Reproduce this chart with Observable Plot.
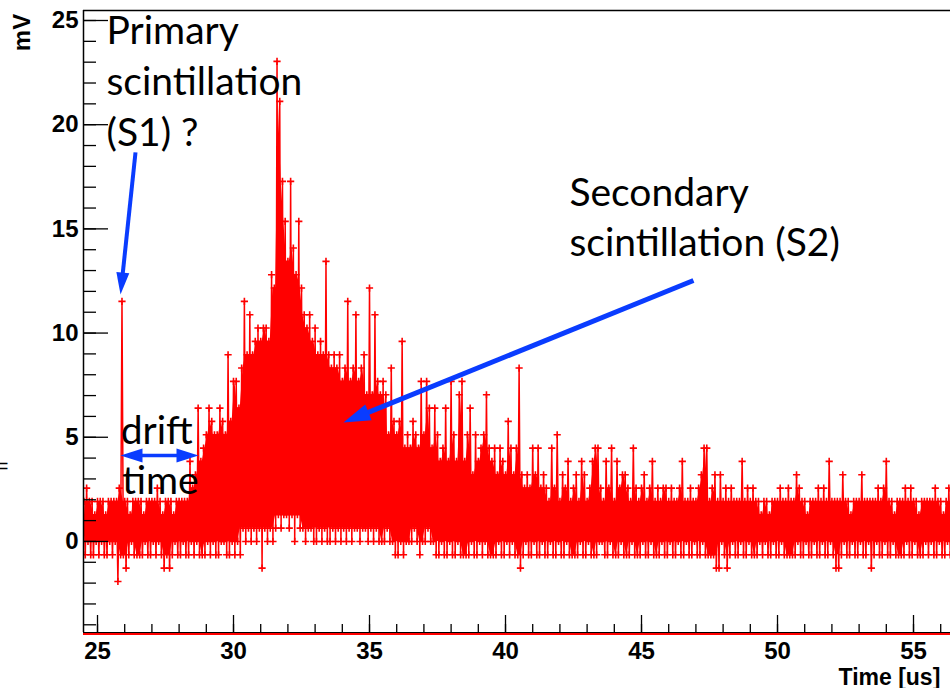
<!DOCTYPE html>
<html><head><meta charset="utf-8">
<script src="https://cdn.jsdelivr.net/npm/d3@7"></script>
<script src="https://cdn.jsdelivr.net/npm/@observablehq/plot@0.6"></script>
<style>
html,body{margin:0;padding:0;background:#fff;overflow:hidden;}
#chart{position:relative;width:950px;height:688px;overflow:hidden;}
</style></head><body><div id="chart"></div>
<script>
// ---- Waveform data ----
// Each 0.1 µs bin holds the upper and lower excursion of the signal, as ADC level codes.
const tStart = 24.5;          // µs, first bin
const binWidth = 0.1;         // µs
const adcStep = 0.64;         // mV per ADC count
const levelAlphabet = "0123456789abcdefghijklmnopqrstuvwxyzABCD"; // '3' = 0 mV
// upper excursions, one string per µs (24.5 … 56.4 µs)
const hiCodes = [
  "6766566656","6667l66566","6656666765","6665666669","78d9abdcbb",
  "dcbhcffdgl","hkhijijjin","mDAuroupnr","mkjkijhiho","hghghfglfg",
  "kfghemekfe","febgcbciab","acbafbfdad","b9ad9fb9ef","9bd8b9abea",
  "9a8a98ca8a","g8787a8a78","76a7b68796","78698679aa","7697a69788",
  "76a7678679","6767767667","96676678aa","6786867676","6696767665",
  "6656667667","6687665666","7676966668","6656668666","6676796656",
  "6676766566","6667665676"
];
// lower excursions, one string per µs
const loCodes = [
  "2322323223","2302212322","2232232321","2123223223","2322232322",
  "3322323243","4343414343","4545545354","4344334343","3434343434",
  "4344343433","3433223233","3432334332","2322322322","2232232322",
  "2232232322","1232232232","2322322322","2232232223","3223222322",
  "2322232232","2232232232","2322322322","2211321232","2322322232",
  "3223223222","2232232232","2322321123","2232232231","2322322322",
  "2232232223","2322322322"
];
const xTicksMajor = [25, 30, 35, 40, 45, 50, 55];
const xTicksMinor = [25,26,27,28,29,30,31,32,33,34,35,36,37,38,39,40,41,42,43,44,45,46,47,48,49,50,51,52,53,54,55,56];
const yTicksMajor = [0, 5, 10, 15, 20, 25];
const yTicksMinor = [-4,-3,-2,-1,0,1,2,3,4,5,6,7,8,9,10,11,12,13,14,15,16,17,18,19,20,21,22,23,24,25];

// Annotations (data coordinates: µs, mV)
const labels = [
  {t: 25.33, v: 24.48, text: "Primary"},
  {t: 25.33, v: 22.03, text: "scintillation"},
  {t: 25.33, v: 19.59, text: "(S1) ?"},
  {t: 42.35, v: 16.71, text: "Secondary"},
  {t: 42.35, v: 14.31, text: "scintillation (S2)"},
  {t: 25.85, v: 5.29, text: "drift"},
  {t: 25.90, v: 2.89, text: "time"}
];
const arrows = [
  {t1: 26.397, v1: 18.67, t2: 25.846, v2: 11.85, both: false, len: 22, wid: 13, w: 4},
  {t1: 46.91, v1: 12.52, t2: 34.04, v2: 5.71, both: false, len: 27, wid: 17, w: 5},
  {t1: 25.846, v1: 4.13, t2: 28.713, v2: 4.13, both: true, len: 22, wid: 14, w: 3.5}
];

// ---- build samples ----
const code = c => (levelAlphabet.indexOf(c) - 3) * adcStep;
const hiAll = hiCodes.join(""), loAll = loCodes.join("");
const hiV = Array.from(hiAll, code), loV = Array.from(loAll, code);
const samples = [];
for (let i = 0; i < hiV.length; i++) {
  samples.push({t: tStart + i * binWidth, mV: hiV[i]});
  samples.push({t: tStart + (i + 0.5) * binWidth, mV: loV[i]});
}
// densely sampled core: region covered by neighbouring excursions
const core = [];
for (let i = 0; i < hiV.length; i++) {
  const top = Math.min(hiV[i], hiV[Math.min(i + 1, hiV.length - 1)]);
  const bot = Math.min(top, Math.max(loV[Math.max(i - 1, 0)], loV[i], loV[Math.min(i + 1, loV.length - 1)]));
  core.push({t: tStart + (i + 0.5) * binWidth, top, bot});
}

const W = 950, H = 688, mL = 83, mR = 0, mT = 10, mB = 56;
const xDomain = [24.485, 56.36];
const yDomain = [-4.37, 25.48];
const xs = Plot.scale({x: {domain: xDomain, range: [mL, W - mR]}});
const ys = Plot.scale({y: {domain: yDomain, range: [H - mB, mT]}});
const plotW = W - mL - mR, plotH = H - mT - mB;

const red = "#ff0000", blue = "#0a3cff";
const cross = {draw(ctx) { const r = 3.6; ctx.moveTo(-r, 0); ctx.lineTo(r, 0); ctx.moveTo(0, -r); ctx.lineTo(0, r); }};
const headSymbol = (len, wid) => ({draw(ctx) { ctx.moveTo(0, 0); ctx.lineTo(-wid / 2, len); ctx.lineTo(wid / 2, len); ctx.closePath(); }});

// arrows: shafts and heads
const shafts = [], headMarks = [];
for (const a of arrows) {
  const px1 = xs.apply(a.t1), py1 = ys.apply(a.v1), px2 = xs.apply(a.t2), py2 = ys.apply(a.v2);
  const dx = px2 - px1, dy = py2 - py1, L = Math.hypot(dx, dy), ux = dx / L, uy = dy / L;
  const cut = a.len * 0.7;
  const e2 = {x: px2 - ux * cut, y: py2 - uy * cut};
  const e1 = a.both ? {x: px1 + ux * cut, y: py1 + uy * cut} : {x: px1, y: py1};
  shafts.push({x1: xs.invert(e1.x), y1: ys.invert(e1.y), x2: xs.invert(e2.x), y2: ys.invert(e2.y), w: a.w});
  const ang = Math.atan2(dx, -dy) * 180 / Math.PI;
  const heads = [{t: a.t2, v: a.v2, rot: ang}];
  if (a.both) heads.push({t: a.t1, v: a.v1, rot: ang + 180});
  headMarks.push(Plot.dot(heads, {x: "t", y: "v", rotate: "rot", symbol: headSymbol(a.len, a.wid), fill: blue, stroke: "none"}));
}

const sansBold = "Liberation Sans, Arial, sans-serif";
const tickFont = {fontFamily: sansBold, fontWeight: "bold", fontSize: 24, fill: "black"};

const chart = Plot.plot({
  width: W, height: H,
  marginLeft: mL, marginRight: mR, marginTop: mT, marginBottom: mB,
  x: {domain: xDomain, axis: null},
  y: {domain: yDomain, axis: null},
  style: {background: "white", overflow: "visible"},
  marks: [
    // waveform
    Plot.areaY(core, {x: "t", y1: "bot", y2: "top", fill: red, curve: "linear", clip: true}),
    Plot.line(samples, {x: "t", y: "mV", stroke: red, strokeWidth: 1.5, clip: true}),
    Plot.dot(samples, {x: "t", y: "mV", symbol: cross, stroke: red, fill: "none", strokeWidth: 1.6, clip: true}),
    // frame
    Plot.ruleY([yDomain[0]], {stroke: red, strokeWidth: 2, dy: 1.5}),
    Plot.ruleY([yDomain[0]], {stroke: "black", strokeWidth: 1.2}),
    Plot.ruleY([yDomain[1]], {stroke: "black", strokeWidth: 1.5}),
    Plot.ruleX([xDomain[0]], {stroke: "black", strokeWidth: 1.5}),
    // inward ticks
    Plot.tickY(yTicksMajor, {y: d => d, insetRight: plotW - 25, stroke: "black", strokeWidth: 1.3}),
    Plot.tickY(yTicksMinor, {y: d => d, insetRight: plotW - 13, stroke: "black", strokeWidth: 1.3}),
    Plot.tickX(xTicksMajor, {x: d => d, insetTop: plotH - 17, stroke: "black", strokeWidth: 1.3}),
    Plot.tickX(xTicksMinor, {x: d => d, insetTop: plotH - 8, stroke: "black", strokeWidth: 1.3}),
    // tick labels
    Plot.text(yTicksMajor, {x: xDomain[0], y: d => d, text: d => String(d), textAnchor: "end", dx: -5, ...tickFont}),
    Plot.text(xTicksMajor, {x: d => d, y: yDomain[0], text: d => String(d), dy: 19, ...tickFont}),
    // axis titles
    Plot.text(["mV"], {x: xs.invert(22), y: ys.invert(32), rotate: -90, text: d => d, fontFamily: sansBold, fontWeight: "bold", fontSize: 24, fill: "black"}),
    Plot.text(["Time [us]"], {x: xs.invert(838), y: ys.invert(677), textAnchor: "start", text: d => d, fontFamily: sansBold, fontWeight: "bold", fontSize: 23, fill: "black"}),
    Plot.text(["="], {x: xs.invert(2), y: ys.invert(466), text: d => d, fontFamily: sansBold, fontSize: 20, fill: "black"}),
    // annotations
    Plot.link(shafts, {x1: "x1", y1: "y1", x2: "x2", y2: "y2", stroke: blue, strokeWidth: d => d.w}),
    ...headMarks,
    Plot.text(labels, {x: "t", y: "v", text: "text", textAnchor: "start", fontFamily: "Lato, Open Sans, sans-serif", fontSize: 39, fill: "black"})
  ]
});
document.getElementById("chart").appendChild(chart);
</script>
</body></html>
